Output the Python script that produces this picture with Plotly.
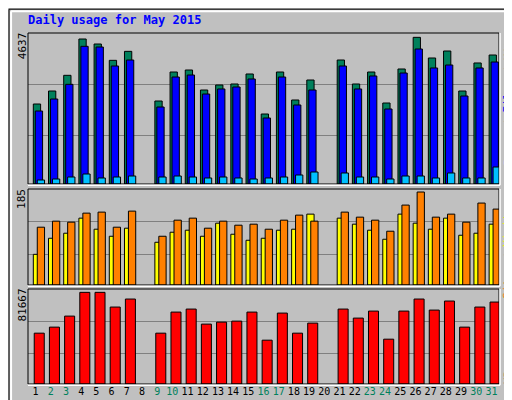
import plotly.graph_objects as go

days = list(range(1, 32))
hits = [2529,2940,3436,4584,4426,3910,4194,None,2624,3541,3604,2972,3130,3162,3478,2213,3541,2656,3288,None,3920,3162,3541,2561,3636,4637,3984,4205,2940,3826,4078]
files = [2308,2687,3151,4353,4331,3731,3920,None,2434,3383,3446,2845,3004,3067,3320,2087,3383,2498,2972,None,3731,3004,3415,2371,3509,4268,3668,3762,2782,3668,3857]
pages = [126,158,221,316,190,221,253,None,221,253,221,190,221,190,158,190,221,285,379,None,348,221,221,158,253,253,190,348,190,190,537]
visits_y = [61,93,103,133,111,97,113,None,85,105,109,97,123,101,89,93,109,111,141,None,133,121,109,91,141,123,111,133,99,103,121]
sites_o = [115,127,125,143,145,115,147,None,97,129,133,113,127,119,121,111,129,139,127,None,145,135,129,107,159,185,135,141,125,163,151]
kbytes = [45304,50669,60504,81667,81667,68552,75705,None,45304,64081,66763,53351,55139,56033,64081,39045,63187,45304,54245,None,66763,58716,64975,39939,64975,75705,65869,73916,50669,68552,73022]
weekend = {2,3,9,10,16,17,23,24,30,31}
ticktext = [f'<span style="color:#00805C">{d}</span>' if d in weekend else str(d) for d in days]

R1, R2, R3 = 4774, 191, 84648
mono = "DejaVu Sans Mono"
fig = go.Figure()
line = dict(color="black", width=1)
def bar(y, color, off, w, xa, ya):
    fig.add_trace(go.Bar(x=days, y=y, offset=off, width=w, marker=dict(color=color, line=line),
                         xaxis=xa, yaxis=ya, showlegend=False))
bar(hits, "#00805C", -0.15, 0.48, "x", "y")
bar(files, "#0000FF", -0.02, 0.48, "x", "y")
bar(pages, "#00C0FF", 0.11, 0.48, "x", "y")
bar(visits_y, "#FFFF00", -0.15, 0.48, "x2", "y2")
bar(sites_o, "#FF8000", 0.11, 0.48, "x2", "y2")
bar(kbytes, "#FF0000", -0.09, 0.66, "x3", "y3")

xd = [20/512, 491/512]
def xax(anchor, show):
    return dict(domain=xd, range=[0.5, 31.5], showgrid=False, zeroline=False, anchor=anchor,
                tickmode="array", tickvals=days, ticktext=ticktext if show else None, tickangle=0,
                showticklabels=show, ticks="", tickfont=dict(family=mono, size=10, color="black"))
def yax(dom, r):
    return dict(domain=dom, range=[0, r], tickvals=[r*0.32, r*0.66], showticklabels=False,
                gridcolor="#808080", gridwidth=1, zeroline=False, fixedrange=True)
fig.update_layout(
    width=512, height=400, margin=dict(l=0, r=0, t=0, b=0),
    paper_bgcolor="#C0C0C0", plot_bgcolor="#C0C0C0", barmode="overlay",
    xaxis=xax("y", False), xaxis2=xax("y2", False), xaxis3=xax("y3", True),
    yaxis=yax([0.56, 0.9375], R1), yaxis2=yax([0.3075, 0.5475], R2), yaxis3=yax([0.06, 0.2975], R3),
)
shapes = []
for y0, y1 in [(0.56, 0.9375), (0.3075, 0.5475), (0.06, 0.2975)]:
    shapes.append(dict(type="rect", xref="paper", yref="paper", x0=xd[0], x1=xd[1], y0=y0, y1=y1,
                       line=dict(color="black", width=1)))
    shapes.append(dict(type="line", xref="paper", yref="paper", x0=xd[1]+0.002, x1=xd[1]+0.002, y0=y0-0.003, y1=y1,
                       line=dict(color="white", width=1.5)))
    shapes.append(dict(type="line", xref="paper", yref="paper", x0=xd[0], x1=xd[1]+0.002, y0=y0-0.003, y1=y0-0.003,
                       line=dict(color="white", width=1.5)))
shapes += [
    dict(type="rect", xref="paper", yref="paper", x0=0.002, x1=0.996, y0=0.004, y1=0.997, line=dict(color="black", width=1)),
    dict(type="line", xref="paper", yref="paper", x0=0.99, x1=0.99, y0=0.012, y1=0.99, line=dict(color="#808080", width=3)),
    dict(type="line", xref="paper", yref="paper", x0=0.01, x1=0.99, y0=0.012, y1=0.012, line=dict(color="#808080", width=3)),
    dict(type="line", xref="paper", yref="paper", x0=0.006, x1=0.006, y0=0.012, y1=0.992, line=dict(color="white", width=2)),
    dict(type="line", xref="paper", yref="paper", x0=0.006, x1=0.99, y0=0.992, y1=0.992, line=dict(color="white", width=2)),
]
fig.update_layout(shapes=shapes)

def A(x, ypx, text, color="black", angle=0, xanchor="center", size=11, bold=False):
    return dict(x=x/512, y=1-ypx/400, text=f"<b>{text}</b>" if bold else text, textangle=angle,
                font=dict(family=mono, size=size, color=color), xref="paper", yref="paper",
                showarrow=False, xanchor=xanchor, yanchor="middle")
cw = 6.6
def vstack(top_px, parts):
    out, y = [], top_px
    for t, c in parts:
        h = len(t) * cw
        out.append(A(500, y + h/2, t, c, -90))
        y += h
    return out
ann = [
    A(18, 12, "Daily usage for May 2015", "#0000FF", 0, "left", 12, True),
    A(14, 25 + 2*cw, "4637", angle=-90),
    A(14, 181 + 1.5*cw, "185", angle=-90),
    A(14, 281 + 2.5*cw, "81667", angle=-90),
]
ann += vstack(26, [("Hits", "#00805C"), (" / ", "#808080"), ("Files", "#0000FF"), (" / ", "#808080"), ("Pages", "#00C0FF")])
ann += vstack(199, [("Visits", "#FFFF00"), (" / ", "#808080"), ("Sites", "#FF8000")])
ann += vstack(376 - 6*cw, [("KBytes", "#FF0000")])
fig.update_layout(annotations=ann)
fig.write_html("out.html")
